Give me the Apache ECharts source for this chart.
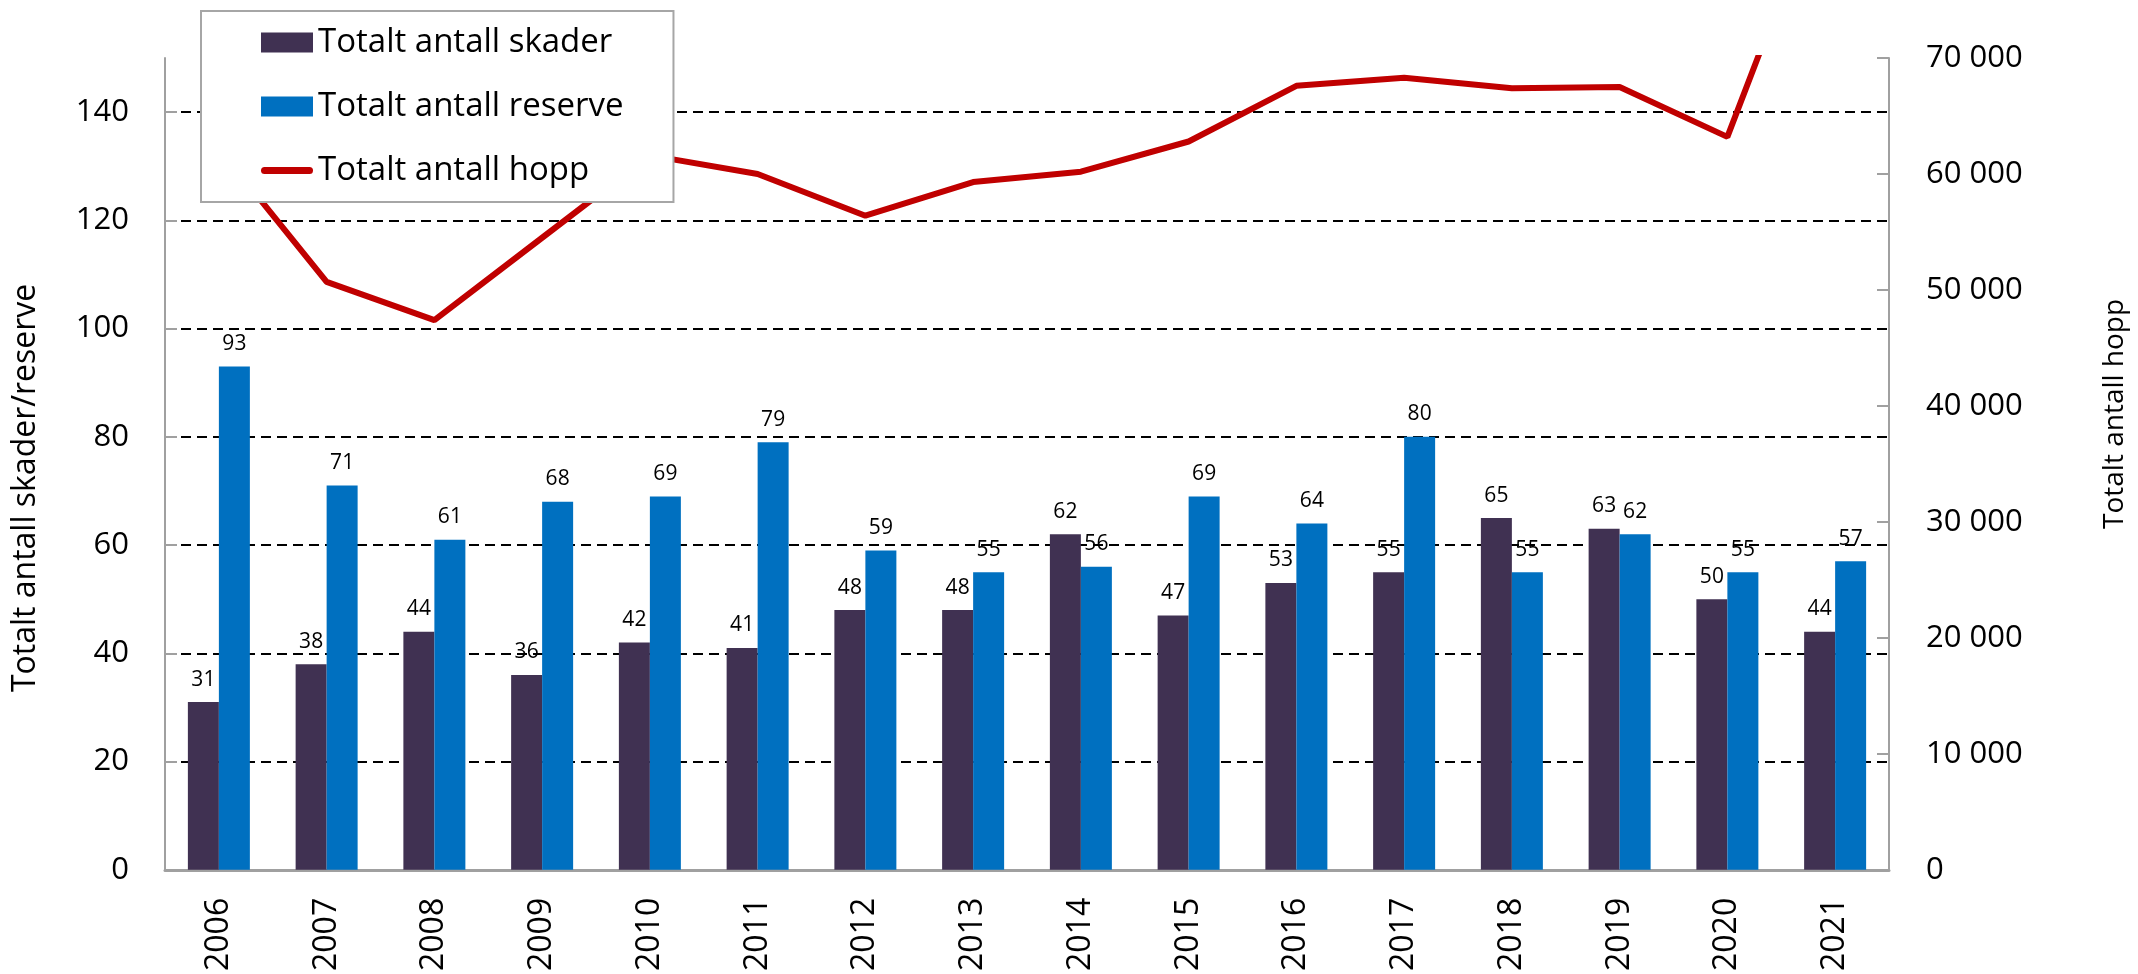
<!DOCTYPE html>
<html lang="no">
<head>
    <meta charset="UTF-8">
    <title>Skader, reserve og hopp</title>
    <script src="https://cdn.jsdelivr.net/npm/echarts@6/dist/echarts.min.js"></script>
    <style>
        html, body { margin: 0; padding: 0; background: #fff; }
    </style>
</head>
<body>

    <div id="main" style="width:2138px; height:974px;"></div>

    <script>
        // data lest av figuren
        var years = ['2006', '2007', '2008', '2009', '2010', '2011', '2012', '2013',
                     '2014', '2015', '2016', '2017', '2018', '2019', '2020', '2021'];
        var skader  = [31, 38, 44, 36, 42, 41, 48, 48, 62, 47, 53, 55, 65, 63, 50, 44];
        var reserve = [93, 71, 61, 68, 69, 79, 59, 55, 56, 69, 64, 80, 55, 62, 55, 57];
        var hopp    = [62200, 50700, 47400, 54500, 61600, 60000, 56400, 59300,
                       60200, 62800, 67600, 68300, 67400, 67500, 63200, 87400];
        var leftTicks = [0, 20, 40, 60, 80, 100, 120, 140];

        var font = "'Open Sans', sans-serif";
        var grey = '#a0a0a0';

        var charts = echarts.init(document.getElementById('main'));

        var options = {
            animation: false,
            textStyle: { fontFamily: font },
            grid: { left: 165, right: 249, top: 58, bottom: 103 },
            legend: {
                left: 201,
                top: 11,
                orient: 'vertical',
                padding: [15, 50, 15, 60],
                itemWidth: 52,
                itemHeight: 20,
                itemGap: 31,
                symbolKeepAspect: true,
                borderColor: '#a6a6a6',
                borderWidth: 2,
                backgroundColor: '#fff',
                textStyle: { fontSize: 33, color: '#000', fontFamily: font },
                data: [
                    { name: 'Totalt antall skader', icon: 'rect' },
                    { name: 'Totalt antall reserve', icon: 'rect' },
                    { name: 'Totalt antall hopp', icon: 'path://M3.5,0 L48.5,0 A3.5,3.5 0 0 1 48.5,7 L3.5,7 A3.5,3.5 0 0 1 3.5,0 Z' }
                ]
            },
            xAxis: {
                type: 'category',
                data: years,
                axisLine: { lineStyle: { color: grey, width: 3 } },
                axisTick: { show: false },
                axisLabel: { rotate: 90, margin: 28, fontSize: 32, color: '#000', fontFamily: font }
            },
            yAxis: [{
                type: 'value',
                min: 0,
                max: 150,
                interval: 20,
                name: 'Totalt antall skader/reserve',
                nameLocation: 'middle',
                nameRotate: 90,
                nameGap: 123,
                nameTextStyle: { fontSize: 32, color: '#000', fontFamily: font, padding: [0, 48, 0, 0] },
                axisLine: { show: true, lineStyle: { color: grey, width: 2 } },
                axisTick: { show: true, inside: true, length: 12, customValues: leftTicks, lineStyle: { color: grey, width: 2 } },
                axisLabel: { margin: 36, fontSize: 31, color: '#000', fontFamily: font, customValues: leftTicks },
                splitLine: { show: true, lineStyle: { color: '#000', width: 2, type: [10, 6] } }
            }, {
                type: 'value',
                min: 0,
                max: 70000,
                interval: 10000,
                position: 'right',
                name: 'Totalt antall hopp',
                nameLocation: 'middle',
                nameRotate: 90,
                nameGap: 212,
                nameTextStyle: { fontSize: 28, color: '#000', fontFamily: font, padding: [0, 0, 0, 100] },
                axisLine: { show: true, lineStyle: { color: grey, width: 2 } },
                axisTick: { show: true, inside: true, length: 12, lineStyle: { color: grey, width: 2 } },
                axisLabel: {
                    margin: 37, fontSize: 31, color: '#000', fontFamily: font,
                    formatter: function (v) {
                        return String(v).replace(/\B(?=(\d{3})+(?!\d))/g, ' ');
                    }
                },
                splitLine: { show: false }
            }],
            series: [{
                name: 'Totalt antall skader',
                type: 'bar',
                data: skader,
                barWidth: 31,
                barGap: '0%',
                itemStyle: { color: '#403152' },
                label: { show: true, position: 'top', distance: 12, fontSize: 21, color: '#000', fontFamily: font }
            }, {
                name: 'Totalt antall reserve',
                type: 'bar',
                data: reserve,
                barWidth: 31,
                barGap: '0%',
                itemStyle: { color: '#0070C0' },
                label: { show: true, position: 'top', distance: 12, fontSize: 21, color: '#000', fontFamily: font }
            }, {
                name: 'Totalt antall hopp',
                type: 'line',
                yAxisIndex: 1,
                data: hopp,
                symbol: 'none',
                clip: true,
                z: 3,
                lineStyle: { color: '#C00000', width: 6 },
                itemStyle: { color: '#C00000' }
            }]
        };

        charts.setOption(options);
    </script>
</body>
</html>
